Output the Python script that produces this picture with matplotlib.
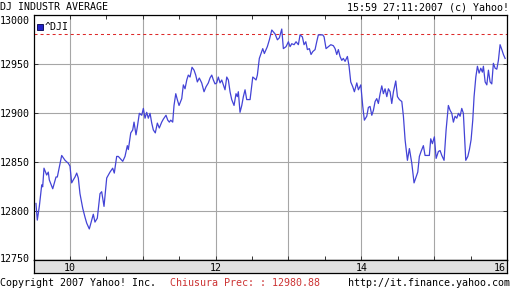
import matplotlib
matplotlib.use("Agg")
import matplotlib.pyplot as plt
import matplotlib.transforms as mtransforms

plt.rcParams['font.family'] = ['DejaVu Sans Mono']

# ---------------- data ----------------
hours = [9.534, 9.552, 9.580, 9.613, 9.626, 9.644, 9.681, 9.703, 9.717, 9.764,
         9.809, 9.827, 9.887, 9.933, 9.978, 10.001, 10.024, 10.046, 10.070, 10.093,
         10.115, 10.138, 10.176, 10.207, 10.230, 10.266, 10.299, 10.321, 10.344, 10.376,
         10.413, 10.436, 10.468, 10.505, 10.550, 10.587, 10.609, 10.642, 10.664, 10.688,
         10.725, 10.756, 10.788, 10.802, 10.835, 10.862, 10.880, 10.907, 10.925, 10.953,
         10.986, 11.008, 11.031, 11.054, 11.076, 11.100, 11.123, 11.145, 11.172, 11.200,
         11.227, 11.260, 11.282, 11.319, 11.343, 11.365, 11.384, 11.411, 11.429, 11.453,
         11.474, 11.498, 11.535, 11.557, 11.580, 11.604, 11.625, 11.649, 11.676, 11.704,
         11.727, 11.749, 11.776, 11.809, 11.841, 11.868, 11.900, 11.923, 11.947, 11.969,
         11.992, 12.015, 12.037, 12.061, 12.084, 12.106, 12.129, 12.153, 12.175, 12.198,
         12.221, 12.253, 12.280, 12.298, 12.312, 12.335, 12.359, 12.381, 12.404, 12.427,
         12.449, 12.473, 12.510, 12.527, 12.555, 12.573, 12.600, 12.624, 12.647, 12.669,
         12.692, 12.710, 12.738, 12.771, 12.793, 12.816, 12.848, 12.875, 12.908, 12.930,
         12.967, 12.999, 13.022, 13.045, 13.077, 13.104, 13.136, 13.159, 13.191, 13.214,
         13.238, 13.260, 13.287, 13.310, 13.334, 13.365, 13.388, 13.410, 13.443, 13.471,
         13.489, 13.516, 13.548, 13.581, 13.616, 13.640, 13.663, 13.685, 13.708, 13.732,
         13.753, 13.777, 13.809, 13.832, 13.855, 13.883, 13.905, 13.938, 13.960, 13.993,
         14.020, 14.042, 14.075, 14.097, 14.120, 14.144, 14.166, 14.189, 14.212, 14.234,
         14.258, 14.281, 14.303, 14.326, 14.350, 14.372, 14.395, 14.418, 14.441, 14.473,
         14.496, 14.523, 14.556, 14.578, 14.601, 14.633, 14.660, 14.693, 14.724, 14.752,
         14.775, 14.797, 14.820, 14.852, 14.875, 14.899, 14.934, 14.953, 14.976, 15.003,
         15.027, 15.058, 15.081, 15.105, 15.136, 15.164, 15.195, 15.219, 15.242, 15.264,
         15.287, 15.311, 15.333, 15.356, 15.379, 15.401, 15.434, 15.462, 15.484, 15.507,
         15.530, 15.548, 15.572, 15.594, 15.617, 15.640, 15.662, 15.676, 15.700, 15.723,
         15.745, 15.768, 15.791, 15.813, 15.837, 15.860, 15.882, 15.905, 15.929, 15.951,
         15.974]
values = [12808, 12791, 12805, 12827, 12825, 12844, 12837, 12840, 12832, 12823,
          12835, 12835, 12857, 12852, 12849, 12846, 12829, 12832, 12835, 12839,
          12834, 12818, 12803, 12794, 12788, 12782, 12791, 12797, 12789, 12793,
          12818, 12820, 12805, 12834, 12840, 12844, 12839, 12856, 12856, 12854,
          12851, 12856, 12867, 12863, 12880, 12883, 12891, 12878, 12886, 12900,
          12898, 12905, 12895, 12901, 12895, 12900, 12890, 12883, 12880, 12890,
          12885, 12891, 12894, 12898, 12893, 12891, 12893, 12891, 12908, 12920,
          12914, 12908, 12915, 12929, 12925, 12934, 12939, 12937, 12947, 12944,
          12939, 12932, 12936, 12931, 12922, 12927, 12931, 12936, 12939, 12934,
          12930, 12931, 12937, 12931, 12934, 12929, 12924, 12937, 12934, 12922,
          12914, 12908, 12920, 12917, 12922, 12901, 12908, 12917, 12924, 12914,
          12914, 12914, 12937, 12936, 12934, 12939, 12956, 12961, 12966, 12961,
          12965, 12968, 12975, 12985, 12983, 12981, 12975, 12977, 12986, 12966,
          12968, 12973, 12968, 12971, 12970, 12973, 12970, 12980, 12978, 12970,
          12973, 12965, 12966, 12960, 12963, 12965, 12973, 12980, 12980, 12980,
          12978, 12966, 12968, 12970, 12969, 12966, 12960, 12965, 12958, 12954,
          12956, 12953, 12958, 12948, 12932, 12927, 12922, 12931, 12924, 12929,
          12907, 12893, 12897, 12906, 12907, 12898, 12903, 12912, 12915, 12910,
          12920, 12928, 12920, 12925, 12917, 12925, 12922, 12910, 12922, 12933,
          12917, 12914, 12912, 12897, 12873, 12852, 12864, 12849, 12829, 12835,
          12840, 12856, 12861, 12867, 12857, 12857, 12857, 12874, 12869, 12876,
          12854, 12861, 12862, 12857, 12852, 12883, 12908, 12903, 12900, 12891,
          12897, 12895, 12900, 12897, 12905, 12900, 12852, 12856, 12863, 12873,
          12893, 12917, 12937, 12948, 12941, 12946, 12942, 12948, 12932, 12929,
          12944, 12932, 12930, 12951, 12946, 12945, 12954, 12970, 12965, 12960,
          12956]
prev_close = 12980.88
y_ticks = [12750, 12800, 12850, 12900, 12950, 13000]
x_label_hours = [10, 12, 14, 16]
x_labels = ["10", "12", "14", "16"]
series_name = "^DJI"
title_left = "DJ INDUSTR AVERAGE"
title_right = "15:59 27:11:2007 (c) Yahoo!"
foot_left = "Copyright 2007 Yahoo! Inc."
foot_mid = "Chiusura Prec: : 12980.88"
foot_right = "http://it.finance.yahoo.com"

# ---------------- figure ----------------
W, H = 512, 288
FS = 7.2
fig = plt.figure(figsize=(W / 100, H / 100), dpi=100)
fig.patch.set_facecolor("white")

L, R, T, B = 33.5, 507.0, 15.3, 260.3
ax = fig.add_axes([L / W, 1 - B / H, (R - L) / W, (B - T) / H])
ax.set_xlim(9.5, 16.0)
ax.set_ylim(12750, 13000)

ax.set_xticks([h + 0.0 for h in range(10, 17)])
ax.set_xticks([h + 0.5 for h in range(9, 16)], minor=True)
ax.set_yticks(y_ticks)
ax.grid(True, which="major", color="#a6a6a6", linewidth=0.8)
ax.set_axisbelow(True)
ax.tick_params(which="both", direction="in", top=True, right=True, left=True,
               bottom=True, length=3, width=0.7, color="#333333",
               labelbottom=False, labelsize=FS, pad=3)
ax.set_yticklabels([str(v) for v in y_ticks])
for sp in ax.spines.values():
    sp.set_color("black")
    sp.set_linewidth(0.9)

# shift the outermost y labels to mimic the original layout
yl = ax.get_yticklabels()
yl[0].set_transform(yl[0].get_transform() + mtransforms.ScaledTranslation(0, 2 / 100, fig.dpi_scale_trans))
yl[-1].set_transform(yl[-1].get_transform() + mtransforms.ScaledTranslation(0, -5 / 100, fig.dpi_scale_trans))

ax.axhline(prev_close, color="#dd2a2a", linewidth=0.75, linestyle=(0, (2.9, 2.9)))
ax.plot(hours, values, color="#4343d6", linewidth=0.9)

# legend
ax.plot([0.0144], [0.952], marker="s", markersize=4.6, markerfacecolor="#2424c8",
        markeredgecolor="#00004a", markeredgewidth=0.6, transform=ax.transAxes,
        linestyle="none", clip_on=False)
ax.text(0.024, 0.952, series_name, transform=ax.transAxes, fontsize=FS,
        va="center", ha="left", color="black")

# grey band with hour labels
band = fig.add_axes([L / W, 1 - 273.3 / H, (R - L) / W, (273.3 - B) / H])
band.set_facecolor("#e0e0e0")
band.set_xlim(9.5, 16.0)
band.set_ylim(0, 1)
band.set_xticks([])
band.set_yticks([])
for sp in band.spines.values():
    sp.set_color("black")
    sp.set_linewidth(0.9)
for h, lab in zip(x_label_hours, x_labels):
    band.text(h - (0.01 if h == 16 else 0), 0.42, lab, ha="right" if h == 16 else "center",
              va="center", fontsize=FS, color="black")

# header and footer texts
fig.text(0.0 / W, 1 - 10.5 / H, title_left, fontsize=FS, ha="left", va="baseline")
fig.text(509 / W, 1 - 10.5 / H, title_right, fontsize=FS, ha="right", va="baseline")
fig.text(0.0 / W, 1 - 285.5 / H, foot_left, fontsize=FS, ha="left", va="baseline")
fig.text(170 / W, 1 - 285.5 / H, foot_mid, fontsize=FS, ha="left", va="baseline", color="#cc3333")
fig.text(510 / W, 1 - 285.5 / H, foot_right, fontsize=FS, ha="right", va="baseline")

fig.savefig("out.png", dpi=100, facecolor="white")
